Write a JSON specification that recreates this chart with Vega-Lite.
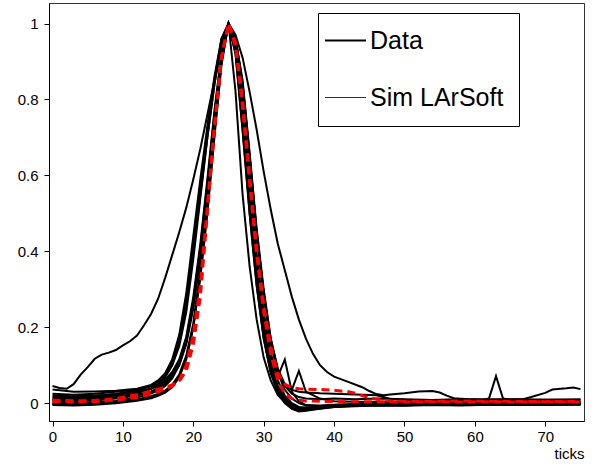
{
  "$schema": "https://vega.github.io/schema/vega-lite/v6.json",
  "width": 535,
  "height": 418,
  "autosize": {"type": "none"},
  "padding": {"left": 49, "top": 3, "right": 12, "bottom": 45},
  "config": {
    "view": {"stroke": "#333333", "strokeWidth": 1},
    "axis": {"grid": false, "zindex": 1, "domainColor": "black", "tickColor": "black", "labelColor": "black", "labelFont": "Liberation Sans", "labelFontSize": 15, "titleFont": "Liberation Sans", "titleColor": "black", "titleFontWeight": "normal", "titleFontSize": 15}
  },
  "datasets": {
    "data": [
      {"curve":"B","tick":0,"amp":0.045},{"curve":"B","tick":1,"amp":0.04},{"curve":"B","tick":2,"amp":0.038},{"curve":"B","tick":3,"amp":0.05},{"curve":"B","tick":4,"amp":0.075},{"curve":"B","tick":5,"amp":0.095},{"curve":"B","tick":6,"amp":0.117},{"curve":"B","tick":7,"amp":0.128},{"curve":"B","tick":8,"amp":0.133},{"curve":"B","tick":9,"amp":0.14},{"curve":"B","tick":10,"amp":0.152},{"curve":"B","tick":11,"amp":0.163},{"curve":"B","tick":12,"amp":0.178},{"curve":"B","tick":13,"amp":0.205},{"curve":"B","tick":14,"amp":0.235},{"curve":"B","tick":15,"amp":0.275},{"curve":"B","tick":16,"amp":0.33},{"curve":"B","tick":17,"amp":0.39},{"curve":"B","tick":18,"amp":0.45},{"curve":"B","tick":19,"amp":0.515},{"curve":"B","tick":20,"amp":0.59},{"curve":"B","tick":21,"amp":0.67},{"curve":"B","tick":22,"amp":0.76},{"curve":"B","tick":23,"amp":0.85},{"curve":"B","tick":24,"amp":0.94},{"curve":"B","tick":25,"amp":1.0},{"curve":"B","tick":26,"amp":0.97},{"curve":"B","tick":27,"amp":0.91},{"curve":"B","tick":28,"amp":0.82},{"curve":"B","tick":29,"amp":0.72},{"curve":"B","tick":30,"amp":0.61},{"curve":"B","tick":31,"amp":0.51},{"curve":"B","tick":32,"amp":0.42},{"curve":"B","tick":33,"amp":0.35},{"curve":"B","tick":34,"amp":0.28},{"curve":"B","tick":35,"amp":0.22},{"curve":"B","tick":36,"amp":0.17},{"curve":"B","tick":37,"amp":0.13},{"curve":"B","tick":38,"amp":0.1},{"curve":"B","tick":39,"amp":0.082},{"curve":"B","tick":40,"amp":0.07},{"curve":"B","tick":42,"amp":0.056},{"curve":"B","tick":44,"amp":0.042},{"curve":"B","tick":45,"amp":0.032},{"curve":"B","tick":46,"amp":0.024},{"curve":"B","tick":47,"amp":0.021},{"curve":"B","tick":48,"amp":0.023},{"curve":"B","tick":50,"amp":0.026},{"curve":"B","tick":52,"amp":0.031},{"curve":"B","tick":54,"amp":0.032},{"curve":"B","tick":55,"amp":0.028},{"curve":"B","tick":56,"amp":0.02},{"curve":"B","tick":57,"amp":0.013},{"curve":"B","tick":59,"amp":0.01},{"curve":"B","tick":62,"amp":0.01},{"curve":"B","tick":65,"amp":0.01},{"curve":"B","tick":67,"amp":0.011},{"curve":"B","tick":68,"amp":0.016},{"curve":"B","tick":70,"amp":0.027},{"curve":"B","tick":71,"amp":0.036},{"curve":"B","tick":73,"amp":0.039},{"curve":"B","tick":74,"amp":0.041},{"curve":"B","tick":75,"amp":0.037},
      {"curve":"c1","tick":0,"amp":0.036},{"curve":"c1","tick":3,"amp":0.03},{"curve":"c1","tick":6,"amp":0.031},{"curve":"c1","tick":9,"amp":0.033},{"curve":"c1","tick":12,"amp":0.038},{"curve":"c1","tick":14,"amp":0.048},{"curve":"c1","tick":15,"amp":0.06},{"curve":"c1","tick":16,"amp":0.078},{"curve":"c1","tick":17,"amp":0.11},{"curve":"c1","tick":18,"amp":0.17},{"curve":"c1","tick":19,"amp":0.27},{"curve":"c1","tick":20,"amp":0.42},{"curve":"c1","tick":21,"amp":0.57},{"curve":"c1","tick":22,"amp":0.72},{"curve":"c1","tick":23,"amp":0.85},{"curve":"c1","tick":24,"amp":0.96},{"curve":"c1","tick":25,"amp":1.0},{"curve":"c1","tick":26,"amp":0.96},{"curve":"c1","tick":27,"amp":0.84},{"curve":"c1","tick":28,"amp":0.65},{"curve":"c1","tick":29,"amp":0.45},{"curve":"c1","tick":30,"amp":0.29},{"curve":"c1","tick":31,"amp":0.17},{"curve":"c1","tick":32,"amp":0.09},{"curve":"c1","tick":33,"amp":0.045},{"curve":"c1","tick":34,"amp":0.025},{"curve":"c1","tick":35,"amp":0.016},{"curve":"c1","tick":36,"amp":0.012},{"curve":"c1","tick":38,"amp":0.01},{"curve":"c1","tick":40,"amp":0.012},{"curve":"c1","tick":43,"amp":0.01},{"curve":"c1","tick":46,"amp":0.012},{"curve":"c1","tick":50,"amp":0.01},{"curve":"c1","tick":54,"amp":0.008},{"curve":"c1","tick":58,"amp":0.01},{"curve":"c1","tick":62,"amp":0.008},{"curve":"c1","tick":66,"amp":0.01},{"curve":"c1","tick":70,"amp":0.009},{"curve":"c1","tick":75,"amp":0.01},
      {"curve":"c2","tick":0,"amp":0.02},{"curve":"c2","tick":3,"amp":0.018},{"curve":"c2","tick":6,"amp":0.02},{"curve":"c2","tick":9,"amp":0.024},{"curve":"c2","tick":12,"amp":0.03},{"curve":"c2","tick":14,"amp":0.038},{"curve":"c2","tick":15,"amp":0.045},{"curve":"c2","tick":16,"amp":0.058},{"curve":"c2","tick":17,"amp":0.078},{"curve":"c2","tick":18,"amp":0.11},{"curve":"c2","tick":19,"amp":0.17},{"curve":"c2","tick":20,"amp":0.27},{"curve":"c2","tick":21,"amp":0.41},{"curve":"c2","tick":22,"amp":0.58},{"curve":"c2","tick":23,"amp":0.76},{"curve":"c2","tick":24,"amp":0.92},{"curve":"c2","tick":25,"amp":1.0},{"curve":"c2","tick":26,"amp":0.95},{"curve":"c2","tick":27,"amp":0.8},{"curve":"c2","tick":28,"amp":0.58},{"curve":"c2","tick":29,"amp":0.38},{"curve":"c2","tick":30,"amp":0.23},{"curve":"c2","tick":31,"amp":0.13},{"curve":"c2","tick":32,"amp":0.07},{"curve":"c2","tick":33,"amp":0.115},{"curve":"c2","tick":34,"amp":0.03},{"curve":"c2","tick":35,"amp":0.005},{"curve":"c2","tick":36,"amp":-0.005},{"curve":"c2","tick":38,"amp":-0.006},{"curve":"c2","tick":40,"amp":-0.004},{"curve":"c2","tick":43,"amp":-0.003},{"curve":"c2","tick":46,"amp":0.0},{"curve":"c2","tick":50,"amp":-0.002},{"curve":"c2","tick":54,"amp":0.002},{"curve":"c2","tick":58,"amp":0.0},{"curve":"c2","tick":62,"amp":0.001},{"curve":"c2","tick":66,"amp":-0.002},{"curve":"c2","tick":70,"amp":0.0},{"curve":"c2","tick":75,"amp":0.001},
      {"curve":"c3","tick":0,"amp":0.01},{"curve":"c3","tick":3,"amp":0.008},{"curve":"c3","tick":6,"amp":0.012},{"curve":"c3","tick":9,"amp":0.016},{"curve":"c3","tick":12,"amp":0.026},{"curve":"c3","tick":14,"amp":0.038},{"curve":"c3","tick":15,"amp":0.05},{"curve":"c3","tick":16,"amp":0.068},{"curve":"c3","tick":17,"amp":0.1},{"curve":"c3","tick":18,"amp":0.16},{"curve":"c3","tick":19,"amp":0.26},{"curve":"c3","tick":20,"amp":0.4},{"curve":"c3","tick":21,"amp":0.55},{"curve":"c3","tick":22,"amp":0.7},{"curve":"c3","tick":23,"amp":0.84},{"curve":"c3","tick":24,"amp":0.95},{"curve":"c3","tick":25,"amp":1.0},{"curve":"c3","tick":26,"amp":0.92},{"curve":"c3","tick":27,"amp":0.72},{"curve":"c3","tick":28,"amp":0.5},{"curve":"c3","tick":29,"amp":0.31},{"curve":"c3","tick":30,"amp":0.17},{"curve":"c3","tick":31,"amp":0.08},{"curve":"c3","tick":32,"amp":0.03},{"curve":"c3","tick":33,"amp":0.002},{"curve":"c3","tick":34,"amp":-0.014},{"curve":"c3","tick":35,"amp":-0.02},{"curve":"c3","tick":36,"amp":-0.018},{"curve":"c3","tick":38,"amp":-0.014},{"curve":"c3","tick":40,"amp":-0.01},{"curve":"c3","tick":43,"amp":-0.007},{"curve":"c3","tick":46,"amp":-0.005},{"curve":"c3","tick":50,"amp":-0.006},{"curve":"c3","tick":54,"amp":-0.003},{"curve":"c3","tick":58,"amp":-0.004},{"curve":"c3","tick":62,"amp":-0.002},{"curve":"c3","tick":66,"amp":-0.003},{"curve":"c3","tick":70,"amp":-0.002},{"curve":"c3","tick":75,"amp":-0.003},
      {"curve":"c4","tick":0,"amp":0.0},{"curve":"c4","tick":3,"amp":-0.002},{"curve":"c4","tick":6,"amp":0.002},{"curve":"c4","tick":9,"amp":0.006},{"curve":"c4","tick":12,"amp":0.015},{"curve":"c4","tick":14,"amp":0.025},{"curve":"c4","tick":15,"amp":0.033},{"curve":"c4","tick":16,"amp":0.045},{"curve":"c4","tick":17,"amp":0.065},{"curve":"c4","tick":18,"amp":0.1},{"curve":"c4","tick":19,"amp":0.16},{"curve":"c4","tick":20,"amp":0.26},{"curve":"c4","tick":21,"amp":0.4},{"curve":"c4","tick":22,"amp":0.57},{"curve":"c4","tick":23,"amp":0.75},{"curve":"c4","tick":24,"amp":0.91},{"curve":"c4","tick":25,"amp":1.0},{"curve":"c4","tick":26,"amp":0.93},{"curve":"c4","tick":27,"amp":0.74},{"curve":"c4","tick":28,"amp":0.52},{"curve":"c4","tick":29,"amp":0.33},{"curve":"c4","tick":30,"amp":0.19},{"curve":"c4","tick":31,"amp":0.09},{"curve":"c4","tick":32,"amp":0.035},{"curve":"c4","tick":33,"amp":0.005},{"curve":"c4","tick":34,"amp":-0.012},{"curve":"c4","tick":35,"amp":-0.018},{"curve":"c4","tick":36,"amp":-0.016},{"curve":"c4","tick":38,"amp":-0.012},{"curve":"c4","tick":40,"amp":-0.009},{"curve":"c4","tick":43,"amp":-0.006},{"curve":"c4","tick":46,"amp":-0.006},{"curve":"c4","tick":50,"amp":-0.004},{"curve":"c4","tick":54,"amp":-0.005},{"curve":"c4","tick":58,"amp":-0.003},{"curve":"c4","tick":62,"amp":-0.004},{"curve":"c4","tick":66,"amp":-0.002},{"curve":"c4","tick":70,"amp":-0.004},{"curve":"c4","tick":75,"amp":-0.003},
      {"curve":"c5","tick":0,"amp":-0.003},{"curve":"c5","tick":3,"amp":-0.004},{"curve":"c5","tick":6,"amp":-0.002},{"curve":"c5","tick":9,"amp":0.002},{"curve":"c5","tick":12,"amp":0.008},{"curve":"c5","tick":14,"amp":0.016},{"curve":"c5","tick":15,"amp":0.022},{"curve":"c5","tick":16,"amp":0.032},{"curve":"c5","tick":17,"amp":0.048},{"curve":"c5","tick":18,"amp":0.075},{"curve":"c5","tick":19,"amp":0.125},{"curve":"c5","tick":20,"amp":0.21},{"curve":"c5","tick":21,"amp":0.35},{"curve":"c5","tick":22,"amp":0.52},{"curve":"c5","tick":23,"amp":0.72},{"curve":"c5","tick":24,"amp":0.9},{"curve":"c5","tick":25,"amp":1.0},{"curve":"c5","tick":26,"amp":0.95},{"curve":"c5","tick":27,"amp":0.8},{"curve":"c5","tick":28,"amp":0.59},{"curve":"c5","tick":29,"amp":0.39},{"curve":"c5","tick":30,"amp":0.24},{"curve":"c5","tick":31,"amp":0.13},{"curve":"c5","tick":32,"amp":0.06},{"curve":"c5","tick":33,"amp":0.02},{"curve":"c5","tick":34,"amp":0.0},{"curve":"c5","tick":35,"amp":-0.01},{"curve":"c5","tick":36,"amp":-0.012},{"curve":"c5","tick":38,"amp":-0.01},{"curve":"c5","tick":40,"amp":-0.008},{"curve":"c5","tick":43,"amp":-0.005},{"curve":"c5","tick":46,"amp":-0.004},{"curve":"c5","tick":50,"amp":-0.003},{"curve":"c5","tick":54,"amp":-0.004},{"curve":"c5","tick":58,"amp":-0.002},{"curve":"c5","tick":62,"amp":-0.003},{"curve":"c5","tick":66,"amp":-0.002},{"curve":"c5","tick":70,"amp":-0.003},{"curve":"c5","tick":75,"amp":-0.002},
      {"curve":"c6","tick":0,"amp":0.005},{"curve":"c6","tick":3,"amp":0.004},{"curve":"c6","tick":6,"amp":0.007},{"curve":"c6","tick":9,"amp":0.012},{"curve":"c6","tick":12,"amp":0.02},{"curve":"c6","tick":14,"amp":0.03},{"curve":"c6","tick":15,"amp":0.04},{"curve":"c6","tick":16,"amp":0.053},{"curve":"c6","tick":17,"amp":0.072},{"curve":"c6","tick":18,"amp":0.105},{"curve":"c6","tick":19,"amp":0.165},{"curve":"c6","tick":20,"amp":0.265},{"curve":"c6","tick":21,"amp":0.4},{"curve":"c6","tick":22,"amp":0.57},{"curve":"c6","tick":23,"amp":0.75},{"curve":"c6","tick":24,"amp":0.91},{"curve":"c6","tick":25,"amp":1.0},{"curve":"c6","tick":26,"amp":0.96},{"curve":"c6","tick":27,"amp":0.84},{"curve":"c6","tick":28,"amp":0.65},{"curve":"c6","tick":29,"amp":0.45},{"curve":"c6","tick":30,"amp":0.29},{"curve":"c6","tick":31,"amp":0.16},{"curve":"c6","tick":32,"amp":0.085},{"curve":"c6","tick":33,"amp":0.045},{"curve":"c6","tick":34,"amp":0.035},{"curve":"c6","tick":35,"amp":0.085},{"curve":"c6","tick":36,"amp":0.03},{"curve":"c6","tick":38,"amp":0.012},{"curve":"c6","tick":40,"amp":0.005},{"curve":"c6","tick":43,"amp":0.004},{"curve":"c6","tick":46,"amp":0.003},{"curve":"c6","tick":50,"amp":0.004},{"curve":"c6","tick":54,"amp":0.002},{"curve":"c6","tick":58,"amp":0.003},{"curve":"c6","tick":62,"amp":0.002},{"curve":"c6","tick":66,"amp":0.003},{"curve":"c6","tick":70,"amp":0.002},{"curve":"c6","tick":75,"amp":0.003},
      {"curve":"c7","tick":0,"amp":0.012},{"curve":"c7","tick":3,"amp":0.012},{"curve":"c7","tick":6,"amp":0.015},{"curve":"c7","tick":9,"amp":0.02},{"curve":"c7","tick":12,"amp":0.032},{"curve":"c7","tick":14,"amp":0.046},{"curve":"c7","tick":15,"amp":0.058},{"curve":"c7","tick":16,"amp":0.078},{"curve":"c7","tick":17,"amp":0.115},{"curve":"c7","tick":18,"amp":0.18},{"curve":"c7","tick":19,"amp":0.29},{"curve":"c7","tick":20,"amp":0.44},{"curve":"c7","tick":21,"amp":0.59},{"curve":"c7","tick":22,"amp":0.73},{"curve":"c7","tick":23,"amp":0.86},{"curve":"c7","tick":24,"amp":0.96},{"curve":"c7","tick":25,"amp":1.0},{"curve":"c7","tick":26,"amp":0.94},{"curve":"c7","tick":27,"amp":0.78},{"curve":"c7","tick":28,"amp":0.56},{"curve":"c7","tick":29,"amp":0.36},{"curve":"c7","tick":30,"amp":0.21},{"curve":"c7","tick":31,"amp":0.11},{"curve":"c7","tick":32,"amp":0.045},{"curve":"c7","tick":33,"amp":0.012},{"curve":"c7","tick":34,"amp":-0.005},{"curve":"c7","tick":35,"amp":-0.012},{"curve":"c7","tick":36,"amp":-0.012},{"curve":"c7","tick":38,"amp":-0.008},{"curve":"c7","tick":40,"amp":-0.005},{"curve":"c7","tick":43,"amp":-0.002},{"curve":"c7","tick":46,"amp":0.002},{"curve":"c7","tick":50,"amp":0.004},{"curve":"c7","tick":54,"amp":0.006},{"curve":"c7","tick":58,"amp":0.008},{"curve":"c7","tick":61,"amp":0.008},{"curve":"c7","tick":62,"amp":0.012},{"curve":"c7","tick":63,"amp":0.071},{"curve":"c7","tick":64,"amp":0.012},{"curve":"c7","tick":66,"amp":0.006},{"curve":"c7","tick":70,"amp":0.004},{"curve":"c7","tick":75,"amp":0.004},
      {"curve":"c8","tick":0,"amp":0.002},{"curve":"c8","tick":3,"amp":0.0},{"curve":"c8","tick":6,"amp":0.002},{"curve":"c8","tick":9,"amp":0.005},{"curve":"c8","tick":12,"amp":0.01},{"curve":"c8","tick":14,"amp":0.018},{"curve":"c8","tick":15,"amp":0.024},{"curve":"c8","tick":16,"amp":0.033},{"curve":"c8","tick":17,"amp":0.047},{"curve":"c8","tick":18,"amp":0.072},{"curve":"c8","tick":19,"amp":0.12},{"curve":"c8","tick":20,"amp":0.2},{"curve":"c8","tick":21,"amp":0.33},{"curve":"c8","tick":22,"amp":0.5},{"curve":"c8","tick":23,"amp":0.7},{"curve":"c8","tick":24,"amp":0.89},{"curve":"c8","tick":25,"amp":1.0},{"curve":"c8","tick":26,"amp":0.92},{"curve":"c8","tick":27,"amp":0.72},{"curve":"c8","tick":28,"amp":0.5},{"curve":"c8","tick":29,"amp":0.31},{"curve":"c8","tick":30,"amp":0.17},{"curve":"c8","tick":31,"amp":0.08},{"curve":"c8","tick":32,"amp":0.028},{"curve":"c8","tick":33,"amp":0.0},{"curve":"c8","tick":34,"amp":-0.015},{"curve":"c8","tick":35,"amp":-0.022},{"curve":"c8","tick":36,"amp":-0.02},{"curve":"c8","tick":38,"amp":-0.015},{"curve":"c8","tick":40,"amp":-0.01},{"curve":"c8","tick":43,"amp":-0.008},{"curve":"c8","tick":46,"amp":-0.006},{"curve":"c8","tick":50,"amp":-0.007},{"curve":"c8","tick":54,"amp":-0.005},{"curve":"c8","tick":58,"amp":-0.006},{"curve":"c8","tick":62,"amp":-0.004},{"curve":"c8","tick":66,"amp":-0.005},{"curve":"c8","tick":70,"amp":-0.004},{"curve":"c8","tick":75,"amp":-0.004},
      {"curve":"c9","tick":0,"amp":0.008},{"curve":"c9","tick":3,"amp":0.006},{"curve":"c9","tick":6,"amp":0.009},{"curve":"c9","tick":9,"amp":0.014},{"curve":"c9","tick":12,"amp":0.022},{"curve":"c9","tick":14,"amp":0.03},{"curve":"c9","tick":15,"amp":0.038},{"curve":"c9","tick":16,"amp":0.05},{"curve":"c9","tick":17,"amp":0.07},{"curve":"c9","tick":18,"amp":0.1},{"curve":"c9","tick":19,"amp":0.155},{"curve":"c9","tick":20,"amp":0.25},{"curve":"c9","tick":21,"amp":0.38},{"curve":"c9","tick":22,"amp":0.54},{"curve":"c9","tick":23,"amp":0.72},{"curve":"c9","tick":24,"amp":0.9},{"curve":"c9","tick":25,"amp":1.0},{"curve":"c9","tick":26,"amp":0.82},{"curve":"c9","tick":27,"amp":0.55},{"curve":"c9","tick":28,"amp":0.36},{"curve":"c9","tick":29,"amp":0.22},{"curve":"c9","tick":30,"amp":0.12},{"curve":"c9","tick":31,"amp":0.06},{"curve":"c9","tick":32,"amp":0.022},{"curve":"c9","tick":33,"amp":0.002},{"curve":"c9","tick":34,"amp":-0.01},{"curve":"c9","tick":35,"amp":-0.014},{"curve":"c9","tick":36,"amp":-0.012},{"curve":"c9","tick":38,"amp":-0.01},{"curve":"c9","tick":40,"amp":-0.007},{"curve":"c9","tick":43,"amp":-0.005},{"curve":"c9","tick":46,"amp":-0.003},{"curve":"c9","tick":50,"amp":-0.004},{"curve":"c9","tick":54,"amp":-0.002},{"curve":"c9","tick":58,"amp":-0.003},{"curve":"c9","tick":62,"amp":-0.002},{"curve":"c9","tick":66,"amp":-0.003},{"curve":"c9","tick":70,"amp":-0.002},{"curve":"c9","tick":75,"amp":-0.002},
      {"curve":"c10","tick":0,"amp":0.016},{"curve":"c10","tick":3,"amp":0.015},{"curve":"c10","tick":6,"amp":0.018},{"curve":"c10","tick":9,"amp":0.024},{"curve":"c10","tick":12,"amp":0.034},{"curve":"c10","tick":14,"amp":0.046},{"curve":"c10","tick":15,"amp":0.056},{"curve":"c10","tick":16,"amp":0.072},{"curve":"c10","tick":17,"amp":0.1},{"curve":"c10","tick":18,"amp":0.15},{"curve":"c10","tick":19,"amp":0.24},{"curve":"c10","tick":20,"amp":0.38},{"curve":"c10","tick":21,"amp":0.54},{"curve":"c10","tick":22,"amp":0.7},{"curve":"c10","tick":23,"amp":0.84},{"curve":"c10","tick":24,"amp":0.95},{"curve":"c10","tick":25,"amp":1.0},{"curve":"c10","tick":26,"amp":0.96},{"curve":"c10","tick":27,"amp":0.85},{"curve":"c10","tick":28,"amp":0.66},{"curve":"c10","tick":29,"amp":0.46},{"curve":"c10","tick":30,"amp":0.3},{"curve":"c10","tick":31,"amp":0.17},{"curve":"c10","tick":32,"amp":0.09},{"curve":"c10","tick":33,"amp":0.05},{"curve":"c10","tick":34,"amp":0.035},{"curve":"c10","tick":35,"amp":0.03},{"curve":"c10","tick":36,"amp":0.028},{"curve":"c10","tick":38,"amp":0.026},{"curve":"c10","tick":40,"amp":0.025},{"curve":"c10","tick":43,"amp":0.023},{"curve":"c10","tick":46,"amp":0.021},{"curve":"c10","tick":47,"amp":0.016},{"curve":"c10","tick":48,"amp":0.011},{"curve":"c10","tick":50,"amp":0.009},{"curve":"c10","tick":54,"amp":0.008},{"curve":"c10","tick":58,"amp":0.009},{"curve":"c10","tick":62,"amp":0.008},{"curve":"c10","tick":66,"amp":0.008},{"curve":"c10","tick":70,"amp":0.009},{"curve":"c10","tick":75,"amp":0.008},
      {"curve":"c11","tick":0,"amp":0.025},{"curve":"c11","tick":3,"amp":0.022},{"curve":"c11","tick":6,"amp":0.025},{"curve":"c11","tick":9,"amp":0.03},{"curve":"c11","tick":12,"amp":0.036},{"curve":"c11","tick":14,"amp":0.044},{"curve":"c11","tick":15,"amp":0.05},{"curve":"c11","tick":16,"amp":0.062},{"curve":"c11","tick":17,"amp":0.082},{"curve":"c11","tick":18,"amp":0.115},{"curve":"c11","tick":19,"amp":0.175},{"curve":"c11","tick":20,"amp":0.28},{"curve":"c11","tick":21,"amp":0.42},{"curve":"c11","tick":22,"amp":0.59},{"curve":"c11","tick":23,"amp":0.77},{"curve":"c11","tick":24,"amp":0.92},{"curve":"c11","tick":25,"amp":1.0},{"curve":"c11","tick":26,"amp":0.93},{"curve":"c11","tick":27,"amp":0.75},{"curve":"c11","tick":28,"amp":0.54},{"curve":"c11","tick":29,"amp":0.35},{"curve":"c11","tick":30,"amp":0.2},{"curve":"c11","tick":31,"amp":0.1},{"curve":"c11","tick":32,"amp":0.04},{"curve":"c11","tick":33,"amp":0.01},{"curve":"c11","tick":34,"amp":-0.008},{"curve":"c11","tick":35,"amp":-0.014},{"curve":"c11","tick":36,"amp":-0.013},{"curve":"c11","tick":38,"amp":-0.01},{"curve":"c11","tick":40,"amp":-0.006},{"curve":"c11","tick":43,"amp":-0.004},{"curve":"c11","tick":46,"amp":-0.002},{"curve":"c11","tick":50,"amp":-0.003},{"curve":"c11","tick":54,"amp":-0.001},{"curve":"c11","tick":58,"amp":-0.002},{"curve":"c11","tick":62,"amp":-0.001},{"curve":"c11","tick":66,"amp":-0.002},{"curve":"c11","tick":70,"amp":-0.001},{"curve":"c11","tick":75,"amp":-0.002},
      {"curve":"c12","tick":0,"amp":-0.005},{"curve":"c12","tick":3,"amp":-0.006},{"curve":"c12","tick":6,"amp":-0.004},{"curve":"c12","tick":9,"amp":0.0},{"curve":"c12","tick":12,"amp":0.006},{"curve":"c12","tick":14,"amp":0.013},{"curve":"c12","tick":15,"amp":0.019},{"curve":"c12","tick":16,"amp":0.028},{"curve":"c12","tick":17,"amp":0.042},{"curve":"c12","tick":18,"amp":0.068},{"curve":"c12","tick":19,"amp":0.115},{"curve":"c12","tick":20,"amp":0.2},{"curve":"c12","tick":21,"amp":0.34},{"curve":"c12","tick":22,"amp":0.51},{"curve":"c12","tick":23,"amp":0.71},{"curve":"c12","tick":24,"amp":0.9},{"curve":"c12","tick":25,"amp":1.0},{"curve":"c12","tick":26,"amp":0.96},{"curve":"c12","tick":27,"amp":0.84},{"curve":"c12","tick":28,"amp":0.64},{"curve":"c12","tick":29,"amp":0.44},{"curve":"c12","tick":30,"amp":0.28},{"curve":"c12","tick":31,"amp":0.16},{"curve":"c12","tick":32,"amp":0.08},{"curve":"c12","tick":33,"amp":0.035},{"curve":"c12","tick":34,"amp":0.012},{"curve":"c12","tick":35,"amp":0.0},{"curve":"c12","tick":36,"amp":-0.006},{"curve":"c12","tick":38,"amp":-0.008},{"curve":"c12","tick":40,"amp":-0.006},{"curve":"c12","tick":43,"amp":-0.004},{"curve":"c12","tick":46,"amp":-0.003},{"curve":"c12","tick":50,"amp":-0.004},{"curve":"c12","tick":54,"amp":-0.002},{"curve":"c12","tick":58,"amp":-0.003},{"curve":"c12","tick":62,"amp":-0.002},{"curve":"c12","tick":66,"amp":-0.003},{"curve":"c12","tick":70,"amp":-0.002},{"curve":"c12","tick":75,"amp":-0.003}
    ],
    "sim": [
      {"curve":"s1","tick":0,"amp":0.008},{"curve":"s1","tick":3,"amp":0.006},{"curve":"s1","tick":6,"amp":0.007},{"curve":"s1","tick":9,"amp":0.012},{"curve":"s1","tick":12,"amp":0.022},{"curve":"s1","tick":14,"amp":0.032},{"curve":"s1","tick":15,"amp":0.037},{"curve":"s1","tick":16,"amp":0.042},{"curve":"s1","tick":17,"amp":0.048},{"curve":"s1","tick":18,"amp":0.058},{"curve":"s1","tick":19,"amp":0.085},{"curve":"s1","tick":20,"amp":0.155},{"curve":"s1","tick":21,"amp":0.28},{"curve":"s1","tick":22,"amp":0.5},{"curve":"s1","tick":23,"amp":0.72},{"curve":"s1","tick":24,"amp":0.91},{"curve":"s1","tick":25,"amp":1.0},{"curve":"s1","tick":26,"amp":0.95},{"curve":"s1","tick":27,"amp":0.8},{"curve":"s1","tick":28,"amp":0.6},{"curve":"s1","tick":29,"amp":0.41},{"curve":"s1","tick":30,"amp":0.26},{"curve":"s1","tick":31,"amp":0.15},{"curve":"s1","tick":32,"amp":0.08},{"curve":"s1","tick":33,"amp":0.05},{"curve":"s1","tick":34,"amp":0.04},{"curve":"s1","tick":35,"amp":0.038},{"curve":"s1","tick":36,"amp":0.037},{"curve":"s1","tick":38,"amp":0.036},{"curve":"s1","tick":40,"amp":0.034},{"curve":"s1","tick":42,"amp":0.03},{"curve":"s1","tick":43,"amp":0.026},{"curve":"s1","tick":44,"amp":0.02},{"curve":"s1","tick":45,"amp":0.014},{"curve":"s1","tick":46,"amp":0.01},{"curve":"s1","tick":48,"amp":0.006},{"curve":"s1","tick":50,"amp":0.005},{"curve":"s1","tick":54,"amp":0.005},{"curve":"s1","tick":58,"amp":0.006},{"curve":"s1","tick":62,"amp":0.005},{"curve":"s1","tick":66,"amp":0.005},{"curve":"s1","tick":70,"amp":0.004},{"curve":"s1","tick":75,"amp":0.005},
      {"curve":"s2","tick":0,"amp":0.004},{"curve":"s2","tick":3,"amp":0.003},{"curve":"s2","tick":6,"amp":0.004},{"curve":"s2","tick":9,"amp":0.008},{"curve":"s2","tick":12,"amp":0.015},{"curve":"s2","tick":14,"amp":0.024},{"curve":"s2","tick":15,"amp":0.03},{"curve":"s2","tick":16,"amp":0.038},{"curve":"s2","tick":17,"amp":0.045},{"curve":"s2","tick":18,"amp":0.06},{"curve":"s2","tick":19,"amp":0.1},{"curve":"s2","tick":20,"amp":0.18},{"curve":"s2","tick":21,"amp":0.31},{"curve":"s2","tick":22,"amp":0.52},{"curve":"s2","tick":23,"amp":0.73},{"curve":"s2","tick":24,"amp":0.91},{"curve":"s2","tick":25,"amp":1.0},{"curve":"s2","tick":26,"amp":0.94},{"curve":"s2","tick":27,"amp":0.78},{"curve":"s2","tick":28,"amp":0.58},{"curve":"s2","tick":29,"amp":0.39},{"curve":"s2","tick":30,"amp":0.24},{"curve":"s2","tick":31,"amp":0.13},{"curve":"s2","tick":32,"amp":0.06},{"curve":"s2","tick":33,"amp":0.025},{"curve":"s2","tick":34,"amp":0.012},{"curve":"s2","tick":35,"amp":0.008},{"curve":"s2","tick":36,"amp":0.006},{"curve":"s2","tick":38,"amp":0.005},{"curve":"s2","tick":40,"amp":0.004},{"curve":"s2","tick":43,"amp":0.004},{"curve":"s2","tick":46,"amp":0.004},{"curve":"s2","tick":50,"amp":0.003},{"curve":"s2","tick":54,"amp":0.004},{"curve":"s2","tick":58,"amp":0.003},{"curve":"s2","tick":62,"amp":0.004},{"curve":"s2","tick":66,"amp":0.003},{"curve":"s2","tick":70,"amp":0.004},{"curve":"s2","tick":75,"amp":0.003}
    ]
  },
  "layer": [
    {
      "data": {"name": "data"},
      "mark": {"type": "line", "strokeWidth": 2, "clip": true},
      "encoding": {
        "x": {"field": "tick", "type": "quantitative", "scale": {"domain": [-0.5, 75.5], "nice": false, "zero": false},
              "axis": {"orient": "bottom", "values": [0, 10, 20, 30, 40, 50, 60, 70], "ticks": true, "tickSize": 5, "tickWidth": 1, "labelPadding": 3.5,
                       "title": "ticks", "titleAnchor": "end", "titleAlign": "right", "titlePadding": 2, "domainWidth": 1}},
        "y": {"field": "amp", "type": "quantitative", "scale": {"domain": [-0.047, 1.054], "nice": false, "zero": false},
              "axis": {"orient": "left", "values": [0, 0.2, 0.4, 0.6, 0.8, 1], "format": "~g", "ticks": true, "tickSize": 5, "tickWidth": 1, "labelPadding": 6,
                       "title": null, "domainWidth": 1}},
        "detail": {"field": "curve", "type": "nominal"},
        "color": {"datum": "Data", "type": "nominal",
                  "scale": {"domain": ["Data", "Sim LArSoft"], "range": ["#000000", "#2020c0"]},
                  "legend": {"orient": "none", "legendX": 269, "legendY": 10, "title": null, "strokeColor": "#000000", "fillColor": "#ffffff", "padding": 15, "symbolType": "stroke", "symbolSize": 1681, "symbolStrokeWidth": 2, "labelFont": "Liberation Sans", "labelFontSize": 25, "labelColor": "#000000", "labelOffset": 12, "rowPadding": 31,
                             "encode": {"symbols": {"update": {"strokeWidth": {"signal": "datum.value === 'Data' ? 2 : 1"}}}}}}
      }
    },
    {
      "mark": {"type": "rule", "stroke": "#808080", "strokeWidth": 2, "strokeDash": [6, 4]},
      "encoding": {"y": {"datum": 0}}
    },
    {
      "data": {"name": "sim"},
      "mark": {"type": "line", "stroke": "#ff0000", "strokeWidth": 3, "strokeDash": [8, 5], "clip": true},
      "encoding": {
        "x": {"field": "tick", "type": "quantitative"},
        "y": {"field": "amp", "type": "quantitative"},
        "detail": {"field": "curve", "type": "nominal"}
      }
    }
  ]
}
